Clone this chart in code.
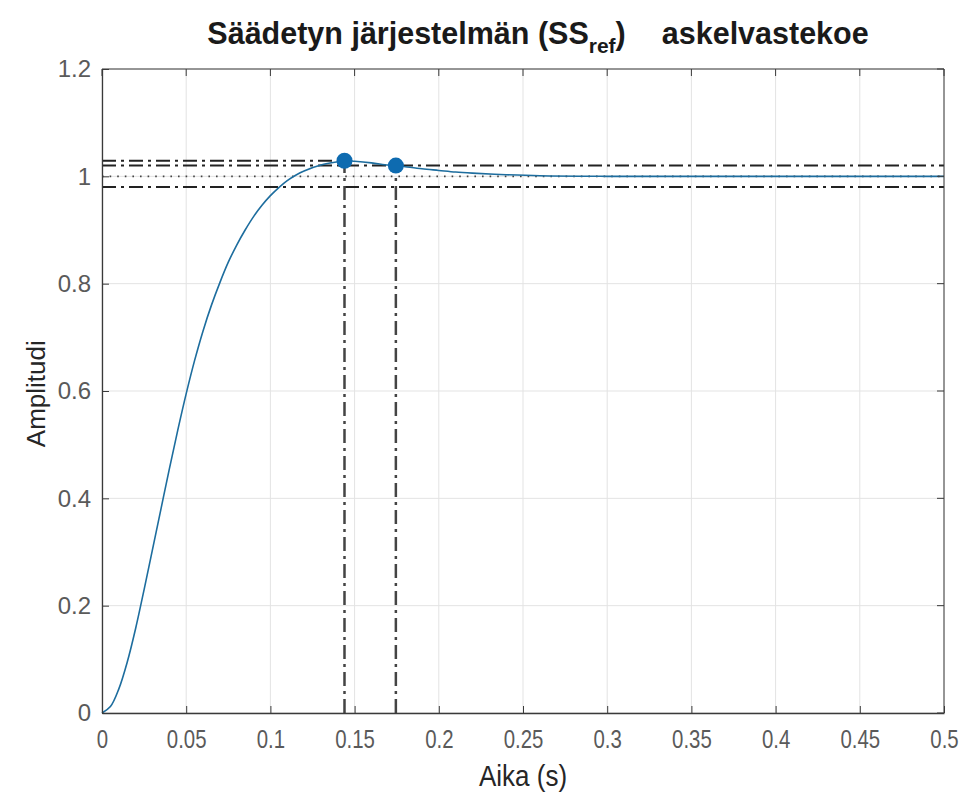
<!DOCTYPE html>
<html>
<head>
<meta charset="utf-8">
<script src="https://cdn.jsdelivr.net/npm/d3@7"></script>
<style>
	body { margin: 0; background: #fff; }
	svg { display: block; font-family: "Liberation Sans", Arial, sans-serif; }
	.grid line { stroke: #e3e3e3; stroke-width: 1; }
	.axis path, .axis line { stroke: #3a3a3a; }
	.axis text { fill: #5a5a5a; font-size: 24px; }
</style>
</head>
<body>
<div id="chart"></div>
<script>
// step response
const timeValues = [0, 0.005, 0.01, 0.015, 0.02, 0.025, 0.03, 0.035, 0.04, 0.045, 0.05, 0.055, 0.06, 0.065, 0.07, 0.075, 0.08, 0.085, 0.09, 0.095, 0.1, 0.105, 0.11, 0.115, 0.12, 0.13, 0.14, 0.145, 0.15, 0.16, 0.17, 0.175, 0.18, 0.19, 0.2, 0.21, 0.22, 0.24, 0.26, 0.3, 0.4, 0.5];
const responseValues = [0, 0.012, 0.045, 0.095, 0.158, 0.23, 0.305, 0.38, 0.455, 0.527, 0.595, 0.657, 0.712, 0.76, 0.802, 0.84, 0.872, 0.9, 0.925, 0.946, 0.964, 0.979, 0.992, 1.002, 1.01, 1.021, 1.027, 1.029, 1.028, 1.025, 1.021, 1.02, 1.018, 1.014, 1.011, 1.008, 1.006, 1.003, 1.001, 1.0, 1.0, 1.0];

// peak and settling time markers
const peakPoint = [0.144, 1.029];
const settlingPoint = [0.1745, 1.02];
const finalValue = [1.0];
const settlingBand = [1.02, 0.98];

const xTicks = [0, 0.05, 0.1, 0.15, 0.2, 0.25, 0.3, 0.35, 0.4, 0.45, 0.5];
const yTicks = [0, 0.2, 0.4, 0.6, 0.8, 1, 1.2];

const width = 973;
const height = 798;
const margins = { left: 102, right: 29, top: 69, bottom: 85 };

const svg = d3
	.select("#chart")
	.append("svg")
	.attr("width", width)
	.attr("height", height)
	.attr("viewBox", `0 0 ${width} ${height}`);

const x = d3
	.scaleLinear()
	.domain([0, 0.5])
	.range([margins.left, width - margins.right]);
const y = d3
	.scaleLinear()
	.domain([0, 1.2])
	.range([height - margins.bottom, margins.top]);

// grid
const grid = svg.append("g").attr("class", "grid");
grid
	.selectAll("line.gx")
	.data(xTicks)
	.join("line")
	.attr("x1", (d) => x(d))
	.attr("x2", (d) => x(d))
	.attr("y1", y(0))
	.attr("y2", y(1.2));
grid
	.selectAll("line.gy")
	.data(yTicks)
	.join("line")
	.attr("x1", x(0))
	.attr("x2", x(0.5))
	.attr("y1", (d) => y(d))
	.attr("y2", (d) => y(d));

// reference lines
const refs = svg.append("g").attr("class", "refs").attr("fill", "none");
const dashDot = "14,5,3,5";

refs
	.selectAll("line.band")
	.data(settlingBand)
	.join("line")
	.attr("x1", x(0))
	.attr("x2", x(0.5))
	.attr("y1", (d) => y(d))
	.attr("y2", (d) => y(d))
	.attr("stroke", "#222")
	.attr("stroke-width", 2)
	.attr("stroke-dasharray", dashDot);

refs
	.selectAll("line.final")
	.data(finalValue)
	.join("line")
	.attr("x1", x(0))
	.attr("x2", x(0.5))
	.attr("y1", (d) => y(d))
	.attr("y2", (d) => y(d))
	.attr("stroke", "#444")
	.attr("stroke-width", 1.6)
	.attr("stroke-dasharray", "1.6,6");

// peak value line, from the y axis to the peak
refs
	.append("line")
	.attr("x1", x(0))
	.attr("x2", x(peakPoint[0]))
	.attr("y1", y(peakPoint[1]))
	.attr("y2", y(peakPoint[1]))
	.attr("stroke", "#222")
	.attr("stroke-width", 2)
	.attr("stroke-dasharray", dashDot);

// vertical lines down from the markers
refs
	.selectAll("line.vert")
	.data([peakPoint, settlingPoint])
	.join("line")
	.attr("x1", (d) => x(d[0]))
	.attr("x2", (d) => x(d[0]))
	.attr("y1", y(0))
	.attr("y2", (d) => y(d[1]))
	.attr("stroke", "#444")
	.attr("stroke-width", 2.5)
	.attr("stroke-dasharray", dashDot);

// response curve
const points = timeValues.map((t, i) => [t, responseValues[i]]);
svg
	.append("path")
	.datum(points)
	.attr("fill", "none")
	.attr("stroke", "#1d6d9e")
	.attr("stroke-width", 1.6)
	.attr(
		"d",
		d3
			.line()
			.x(([t]) => x(t))
			.y(([_, v]) => y(v))
			.curve(d3.curveCatmullRom.alpha(0.5)),
	);

// markers
svg
	.selectAll("circle.marker")
	.data([peakPoint, settlingPoint])
	.join("circle")
	.attr("cx", (d) => x(d[0]))
	.attr("cy", (d) => y(d[1]))
	.attr("r", 8)
	.attr("fill", "#0e6bb0");

// Add X axis
const xAxis = svg
	.append("g")
	.attr("class", "axis x-axis")
	.attr("transform", `translate(0, ${y(0)})`)
	.call(
		d3
			.axisBottom(x)
			.tickValues(xTicks)
			.tickFormat((d) => String(d))
			.tickSizeInner(-7)
			.tickSizeOuter(0)
			.tickPadding(16),
	);
xAxis.selectAll(".tick text").attr("transform", "scale(0.85, 1.05)");

// Add Y axis
svg
	.append("g")
	.attr("class", "axis y-axis")
	.attr("transform", `translate(${x(0)}, 0)`)
	.call(
		d3
			.axisLeft(y)
			.tickValues(yTicks)
			.tickFormat((d) => String(d))
			.tickSizeInner(-7)
			.tickSizeOuter(0)
			.tickPadding(11),
	);

// top and right edges of the box, with their ticks
const box = svg.append("g").attr("class", "axis box");
box
	.append("path")
	.attr("fill", "none")
	.attr("d", `M${x(0)},${y(1.2)}H${x(0.5)}V${y(0)}`);
box
	.selectAll("line.tt")
	.data(xTicks)
	.join("line")
	.attr("x1", (d) => x(d))
	.attr("x2", (d) => x(d))
	.attr("y1", y(1.2))
	.attr("y2", y(1.2) + 7);
box
	.selectAll("line.rt")
	.data(yTicks)
	.join("line")
	.attr("x1", x(0.5))
	.attr("x2", x(0.5) - 7)
	.attr("y1", (d) => y(d))
	.attr("y2", (d) => y(d));

svg.selectAll(".axis path.domain").attr("stroke-width", 1.3);

// axis labels
svg
	.append("text")
	.attr("transform", `translate(${x(0.25)}, 786) scale(1, 1.1)`)
	.attr("text-anchor", "middle")
	.attr("font-size", 26)
	.attr("fill", "#262626")
	.text("Aika (s)");

svg
	.append("text")
	.attr("transform", `translate(45, ${y(0.595)}) rotate(-90)`)
	.attr("text-anchor", "middle")
	.attr("font-size", 26)
	.attr("fill", "#262626")
	.text("Amplitudi");

// title with subscript
const title = svg
	.append("text")
	.attr("transform", "translate(538, 44)")
	.attr("text-anchor", "middle")
	.attr("font-size", 30.5)
	.attr("font-weight", "bold")
	.attr("fill", "#1a1a1a");
title.append("tspan").text("Säädetyn järjestelmän (SS");
title
	.append("tspan")
	.attr("font-size", 21)
	.attr("dy", 9)
	.text("ref");
title.append("tspan").attr("dy", -9).text(")");
title
	.append("tspan")
	.attr("dx", 36)
	.text("askelvastekoe");
</script>
</body>
</html>
